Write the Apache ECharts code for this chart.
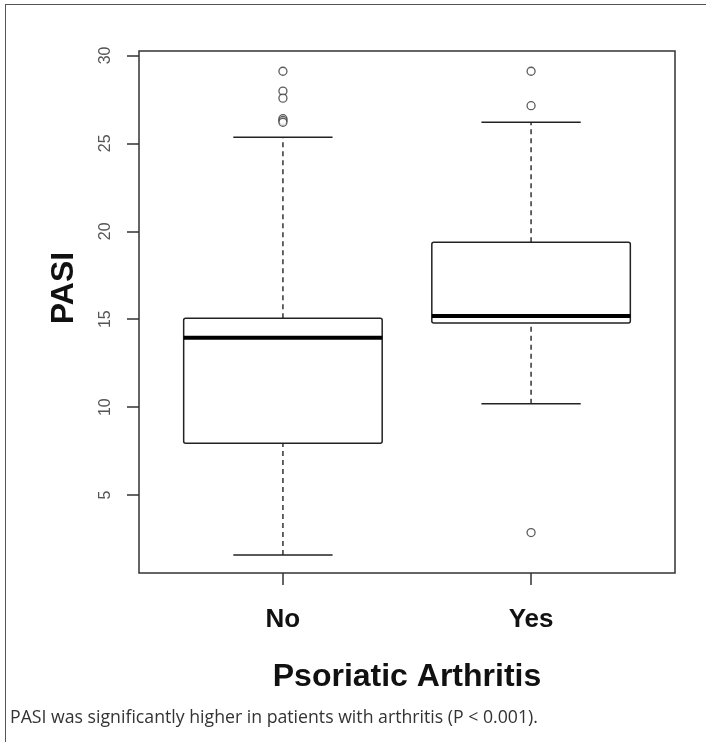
<!DOCTYPE html>
<html>
<head>
<meta charset="utf-8">
<script src="https://cdn.jsdelivr.net/npm/echarts@6/dist/echarts.min.js"></script>
<style>
  html, body { margin: 0; padding: 0; background: #fff; }
  #frame { position: absolute; left: 5px; top: 4px; width: 701px; height: 738px;
           border-top: 1.5px solid #555; border-left: 1.5px solid #555; box-sizing: border-box; }
  #chart { position: absolute; left: 0; top: 0; width: 706px; height: 742px; }
</style>
</head>
<body>
<div id="frame"></div>
<div id="chart"></div>
<script>
// ---- data ----
const categories = ['No', 'Yes'];
// [position, lower whisker, Q1, median, Q3, upper whisker]
const boxNo  = [1, 1.6, 7.95, 13.95, 15.05, 25.35];
const boxYes = [2, 10.2, 14.78, 15.18, 19.38, 26.2];
const outliersNo  = [29.1, 27.97, 27.57, 26.4, 26.3, 26.2];
const outliersYes = [29.1, 27.14, 2.87];
const yTicks = [5, 10, 15, 20, 25, 30];
const xTicks = [1, 2];
const yRange = [0.57, 30.25];
const xRange = [0.42, 2.58];
const xTitle = 'Psoriatic Arthritis';
const yTitle = 'PASI';
const caption = 'PASI was significantly higher in patients with arthritis (P < 0.001).';

const outlierPoints = []
  .concat(outliersNo.map(v => [1, v]))
  .concat(outliersYes.map(v => [2, v]));

const chart = echarts.init(document.getElementById('chart'), null, { renderer: 'canvas' });
const FONT = 'Liberation Sans, Arial, sans-serif';
const INK = '#222';

function renderBox(params, api) {
  const x = api.value(0), lo = api.value(1), q1 = api.value(2),
        med = api.value(3), q3 = api.value(4), hi = api.value(5);
  const bw = 0.4, cw = 0.2;
  const p = (a, b) => api.coord([a, b]);
  const line = (a, b, style) => ({
    type: 'line',
    shape: { x1: a[0], y1: a[1], x2: b[0], y2: b[1] },
    style: Object.assign({ stroke: INK, lineWidth: 1.5 }, style)
  });
  const tl = p(x - bw, q3), br = p(x + bw, q1);
  return {
    type: 'group',
    children: [
      line(p(x, q3), p(x, hi), { lineDash: [5, 4], stroke: '#333' }),
      line(p(x, lo), p(x, q1), { lineDash: [5, 4], stroke: '#333' }),
      line(p(x - cw, hi), p(x + cw, hi), {}),
      line(p(x - cw, lo), p(x + cw, lo), {}),
      {
        type: 'rect',
        shape: { x: tl[0], y: tl[1], width: br[0] - tl[0], height: br[1] - tl[1], r: 2 },
        style: { fill: '#fff', stroke: INK, lineWidth: 1.5 }
      },
      line(p(x - bw, med), p(x + bw, med), { lineWidth: 4, stroke: '#000' })
    ]
  };
}

chart.setOption({
  animation: false,
  backgroundColor: 'transparent',
  title: {
    text: caption,
    left: 10,
    top: 709,
    padding: 0,
    textStyle: { fontFamily: 'Open Sans, Noto Sans, sans-serif', fontSize: 17.7, fontWeight: 'normal', color: '#333' }
  },
  grid: {
    left: 139, right: 31, top: 51, bottom: 169,
    show: true, borderColor: '#333', borderWidth: 1.5, backgroundColor: 'transparent',
    outerBoundsMode: 'none'
  },
  xAxis: {
    type: 'value',
    min: xRange[0], max: xRange[1],
    splitLine: { show: false },
    axisLine: { show: false },
    axisTick: { show: true, inside: false, length: 12, customValues: xTicks, lineStyle: { color: '#333', width: 1.5 } },
    axisLabel: {
      customValues: xTicks,
      formatter: v => categories[Math.round(v) - 1] || '',
      margin: 34,
      fontFamily: FONT, fontSize: 26, fontWeight: 'bold', color: '#111'
    },
    name: xTitle,
    nameLocation: 'middle',
    nameGap: 88,
    nameTextStyle: { fontFamily: FONT, fontSize: 32, fontWeight: 'bold', color: '#111' }
  },
  yAxis: {
    type: 'value',
    min: yRange[0], max: yRange[1],
    splitLine: { show: false },
    axisLine: { show: false },
    axisTick: { show: true, inside: false, length: 12, customValues: yTicks, lineStyle: { color: '#333', width: 1.5 } },
    axisLabel: {
      customValues: yTicks,
      rotate: 90,
      margin: 25,
      fontFamily: FONT, fontSize: 16, color: '#555'
    },
    name: yTitle,
    nameLocation: 'middle',
    nameGap: 59,
    nameTextStyle: { fontFamily: FONT, fontSize: 32, fontWeight: 'bold', color: '#111', padding: [0, 0, 0, 48] }
  },
  series: [
    {
      type: 'custom',
      renderItem: renderBox,
      encode: { x: 0, y: [1, 2, 3, 4, 5] },
      data: [boxNo, boxYes],
      z: 2
    },
    {
      type: 'scatter',
      data: outlierPoints,
      symbol: 'circle',
      symbolSize: 8,
      itemStyle: { color: '#fff', borderColor: '#333', borderWidth: 1.3 },
      z: 3
    }
  ]
});
</script>
</body>
</html>
